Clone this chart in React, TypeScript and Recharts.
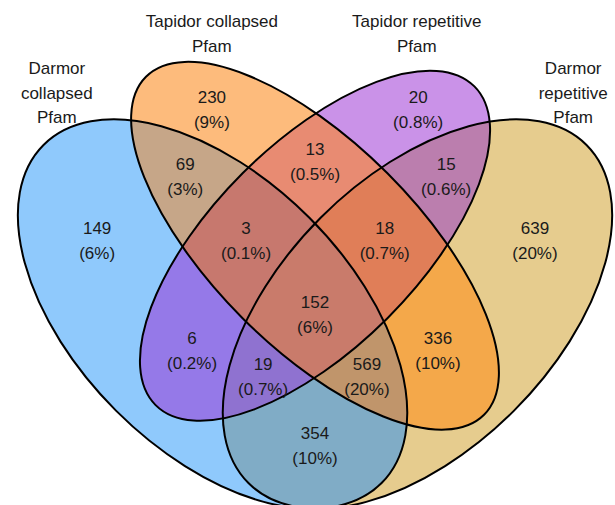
import React from 'react';
import { ScatterChart, Scatter, XAxis, YAxis } from 'recharts';

// four sets, in the order they are listed in the figure
const setNames = [
  ['Darmor', 'collapsed', 'Pfam'],
  ['Tapidor collapsed', 'Pfam'],
  ['Tapidor repetitive', 'Pfam'],
  ['Darmor', 'repetitive', 'Pfam'],
];

// ellipse geometry in plot units (centre, semi axes, tilt)
const setCentreX = [0.35, 0.5, 0.5, 0.65];
const setCentreY = [0.47, 0.57, 0.57, 0.47];
const setSemiA = [0.35, 0.35, 0.33, 0.35];
const setSemiB = [0.2, 0.15, 0.15, 0.2];
const setTilt = [45, 45, -45, -45];

const setLabelX = [0.122, 0.349, 0.649, 0.878];
const setLabelY = [0.794, 0.881, 0.881, 0.794];

// regions: which sets they belong to, the count and share
const regionSets = [
  [0], [1], [2], [3],
  [0, 1], [1, 2], [2, 3], [0, 2], [0, 3], [1, 3],
  [0, 1, 2], [1, 2, 3], [0, 2, 3], [0, 1, 3],
  [0, 1, 2, 3],
];
const regionCounts = [149, 230, 20, 639, 69, 13, 15, 6, 354, 336, 3, 18, 19, 569, 152];
const regionShares = ['6%', '9%', '0.8%', '20%', '3%', '0.5%', '0.6%', '0.2%', '10%', '10%', '0.1%', '0.7%', '0.7%', '20%', '6%'];

const regionLabelX = [0.181, 0.349, 0.651, 0.822, 0.31, 0.5, 0.692, 0.32, 0.5, 0.68, 0.399, 0.602, 0.424, 0.576, 0.5];
const regionLabelY = [0.578, 0.769, 0.769, 0.578, 0.672, 0.693, 0.672, 0.417, 0.278, 0.417, 0.578, 0.578, 0.379, 0.379, 0.469];

const regionColors = [
  '#8fc9fc', '#fdbb7c', '#ca92e8', '#e6cc8e',
  '#c6a688', '#e88b72', '#bb7eae', '#9579e8', '#80acc6', '#f4a84a',
  '#c7786e', '#e07e58', '#8f72d0', '#c0956b',
  '#c97b6b',
];

const W = 615;
const H = 505;
const X_DOMAIN = [0.0388, 0.9392];
const Y_DOMAIN = [0.1904, 0.9298];
const KX = W / (X_DOMAIN[1] - X_DOMAIN[0]);
const KY = H / (Y_DOMAIN[1] - Y_DOMAIN[0]);

const FONT = '"Liberation Sans", Arial, Helvetica, sans-serif';
const TEXT = '#1a1a1a';

const sets = setNames.map((lines, i) => ({
  x: setCentreX[i],
  y: setCentreY[i],
  a: setSemiA[i],
  b: setSemiB[i],
  tilt: setTilt[i],
  idx: i,
}));

const setLabels = setNames.map((lines, i) => ({ x: setLabelX[i], y: setLabelY[i], lines }));

const regions = regionSets.map((members, i) => ({
  x: setCentreX[members[0]],
  y: setCentreY[members[0]],
  members,
  color: regionColors[i],
}));

const regionLabels = regionCounts.map((n, i) => ({
  x: regionLabelX[i],
  y: regionLabelY[i],
  lines: [String(n), `(${regionShares[i]})`],
}));

// fill the intersection of all member sets; painted from single sets up to all four,
// so each pixel ends with the colour of its exact region
const RegionShape = (props: any) => {
  const { cx, cy, payload } = props;
  const first = sets[payload.members[0]];
  let node: React.ReactNode = (
    <ellipse
      cx={cx}
      cy={cy}
      rx={first.a * KX}
      ry={first.b * KY}
      transform={`rotate(${first.tilt} ${cx} ${cy})`}
      fill={payload.color}
    />
  );
  payload.members.slice(1).forEach((m: number) => {
    node = <g clipPath={`url(#venn-clip-${m})`}>{node}</g>;
  });
  return <g>{node}</g>;
};

const SetShape = (props: any) => {
  const { cx, cy, payload } = props;
  const tr = `rotate(${payload.tilt} ${cx} ${cy})`;
  return (
    <g>
      <defs>
        <clipPath id={`venn-clip-${payload.idx}`}>
          <ellipse cx={cx} cy={cy} rx={payload.a * KX} ry={payload.b * KY} transform={tr} />
        </clipPath>
      </defs>
      <ellipse
        cx={cx}
        cy={cy}
        rx={payload.a * KX}
        ry={payload.b * KY}
        transform={tr}
        fill="none"
        stroke="#000"
        strokeWidth={2}
      />
    </g>
  );
};

const makeTextShape = (lineGap: number) => (props: any) => {
  const { cx, cy, payload } = props;
  const n = payload.lines.length;
  return (
    <text textAnchor="middle" fontFamily={FONT} fontSize={17} fill={TEXT}>
      {payload.lines.map((t: string, i: number) => (
        <tspan key={i} x={cx} y={cy + (i - (n - 1) / 2) * lineGap + 6}>
          {t}
        </tspan>
      ))}
    </text>
  );
};

const RegionText = makeTextShape(25);
const SetText = makeTextShape(24.5);

export default function App() {
  if (typeof document !== 'undefined') document.body.style.margin = '0';
  return (
    <div style={{ width: W, height: H, background: '#fff' }}>
      <ScatterChart width={W} height={H} margin={{ top: 0, right: 0, bottom: 0, left: 0 }}>
        <XAxis type="number" dataKey="x" domain={X_DOMAIN} hide allowDataOverflow />
        <YAxis type="number" dataKey="y" domain={Y_DOMAIN} hide allowDataOverflow />
        <Scatter data={regions} shape={RegionShape} isAnimationActive={false} />
        <Scatter data={sets} shape={SetShape} isAnimationActive={false} />
        <Scatter data={regionLabels} shape={RegionText} isAnimationActive={false} />
        <Scatter data={setLabels} shape={SetText} isAnimationActive={false} />
      </ScatterChart>
    </div>
  );
}
